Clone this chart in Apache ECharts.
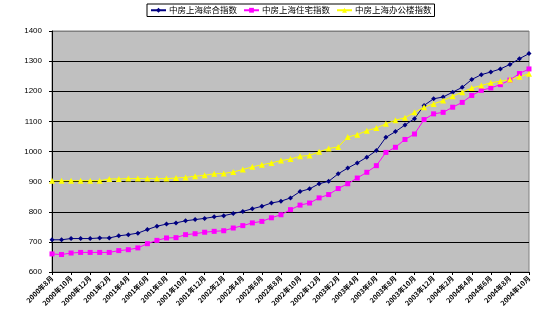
<!DOCTYPE html>
<html>
<head>
<meta charset="utf-8">
<script src="https://cdn.jsdelivr.net/npm/echarts@6/dist/echarts.min.js"></script>
<style>html,body{margin:0;padding:0;background:#fff;}#c{width:538px;height:328px;}</style>
</head>
<body>
<div id="c"></div>
<script>
// Monthly categories 2000年8月 .. 2004年10月
const categories = [
  "2000年8月","2000年9月","2000年10月","2000年11月","2000年12月",
  "2001年1月","2001年2月","2001年3月","2001年4月","2001年5月","2001年6月","2001年7月","2001年8月","2001年9月","2001年10月","2001年11月","2001年12月",
  "2002年1月","2002年2月","2002年3月","2002年4月","2002年5月","2002年6月","2002年7月","2002年8月","2002年9月","2002年10月","2002年11月","2002年12月",
  "2003年1月","2003年2月","2003年3月","2003年4月","2003年5月","2003年6月","2003年7月","2003年8月","2003年9月","2003年10月","2003年11月","2003年12月",
  "2004年1月","2004年2月","2004年3月","2004年4月","2004年5月","2004年6月","2004年7月","2004年8月","2004年9月","2004年10月"
];
const seriesNames = ["中房上海综合指数","中房上海住宅指数","中房上海办公楼指数"];
const composite = [707,707,711,711,711,713,713,720,724,729,741,752,759,763,770,774,778,783,787,794,801,810,818,829,835,846,867,876,893,901,926,945,962,981,1003,1047,1066,1088,1109,1153,1175,1181,1197,1213,1239,1255,1264,1274,1289,1308,1325];
const residential = [660,658,663,665,665,665,665,671,674,680,694,705,713,714,724,727,732,735,737,746,754,763,768,780,790,807,822,829,846,857,877,893,912,931,953,997,1014,1040,1058,1106,1125,1130,1147,1163,1186,1203,1211,1222,1237,1259,1274];
const office = [903,903,903,903,903,903,909,909,910,910,910,910,910,912,914,918,921,926,927,932,940,949,956,962,970,975,984,987,999,1010,1015,1048,1056,1069,1078,1092,1104,1112,1130,1147,1158,1169,1183,1197,1211,1219,1228,1233,1239,1248,1258];
const yTicks = {min:600, max:1400, step:100};

const font = '"Noto Sans CJK SC", "DejaVu Sans", sans-serif';
const chart = echarts.init(document.getElementById('c'), null, {renderer:'canvas'});
chart.setOption({
  animation:false,
  backgroundColor:'#ffffff',
  legend:{
    top:4, left:147,
    data:seriesNames,
    borderColor:'#000', borderWidth:1, padding:[2,3],
    itemWidth:15, itemHeight:6, itemGap:6,
    textStyle:{fontSize:8.5, color:'#000', fontFamily:font, padding:[0,0,0,-2]}
  },
  grid:{left:52, right:9, top:31, bottom:56, show:true, backgroundColor:'#C0C0C0', borderColor:'#808080', borderWidth:1},
  xAxis:{
    type:'category', data:categories, boundaryGap:false,
    axisLine:{lineStyle:{color:'#000', width:1}},
    axisTick:{show:true, interval:1, length:3, lineStyle:{color:'#000'}},
    axisLabel:{interval:1, rotate:45, fontSize:7, fontWeight:'bold', color:'#000', margin:5, fontFamily:font},
    splitLine:{show:false}
  },
  yAxis:{
    type:'value', min:yTicks.min, max:yTicks.max, interval:yTicks.step,
    axisLine:{show:true, lineStyle:{color:'#000', width:1}},
    axisTick:{show:true, length:3, lineStyle:{color:'#000'}},
    axisLabel:{fontSize:8, color:'#000', margin:10, fontFamily:'"Liberation Sans", sans-serif', formatter:function(v){return String(v);}},
    splitLine:{show:true, lineStyle:{color:['#000','#000','#000','#000','#000','#000','#000','#000','#808080'], width:1}}
  },
  series:[
    {name:seriesNames[0], type:'line', data:composite, symbol:'diamond', symbolSize:5,
     lineStyle:{color:'#000080', width:1}, itemStyle:{color:'#000080'}},
    {name:seriesNames[1], type:'line', data:residential, symbol:'rect', symbolSize:5,
     lineStyle:{color:'#FF00FF', width:1}, itemStyle:{color:'#FF00FF'}},
    {name:seriesNames[2], type:'line', data:office, symbol:'triangle', symbolSize:6,
     lineStyle:{color:'#FFFF00', width:1}, itemStyle:{color:'#FFFF00'}}
  ]
});
</script>
</body>
</html>
